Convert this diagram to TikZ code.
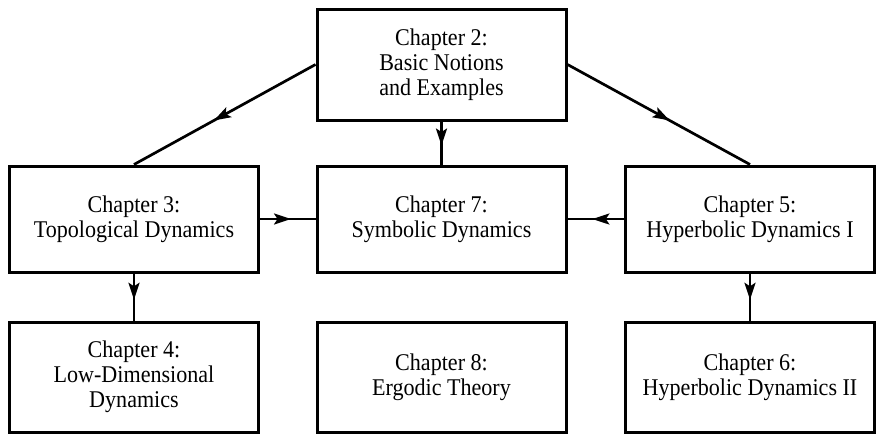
\documentclass[tikz,border=0pt]{standalone}
\usepackage{fontspec}
\setmainfont[FakeStretch=0.92]{Liberation Serif}
\usetikzlibrary{arrows.meta,decorations.markings}
\begin{document}
\begin{tikzpicture}[x=1pt,y=-1pt,
  chapbox/.style={draw,line width=3pt,minimum width=249pt,align=center,
    inner sep=0pt,font=\fontsize{24}{25}\selectfont},
  link/.style={line width=2.7pt,postaction={decorate},
    decoration={markings,mark=at position 0.56 with {\arrow{Stealth[length=17pt,width=11pt,inset=3.5pt]}}}}]
\useasboundingbox (0,0) rectangle (878,437);
\node[chapbox,minimum height=111pt] (c2) at (441.5,64.5) {Chapter 2:\\Basic Notions\\and Examples};
\node[chapbox,minimum height=106pt] (c3) at (134,219) {Chapter 3:\\Topological Dynamics};
\node[chapbox,minimum height=106pt] (c7) at (441.5,219) {Chapter 7:\\Symbolic Dynamics};
\node[chapbox,minimum height=106pt] (c5) at (750,219) {Chapter 5:\\Hyperbolic Dynamics I};
\node[chapbox,minimum height=110pt] (c4) at (134,377) {Chapter 4:\\Low-Dimensional\\Dynamics};
\node[chapbox,minimum height=110pt] (c8) at (441.5,377) {Chapter 8:\\Ergodic Theory};
\node[chapbox,minimum height=110pt] (c6) at (750,377) {Chapter 6:\\Hyperbolic Dynamics II};
\draw[link] (c2.west) -- (c3.north);
\draw[link] (c2.east) -- (c5.north);
\draw[link] (c2.south) -- (c7.north);
\draw[link] (c3.east) -- (c7.west);
\draw[link] (c5.west) -- (c7.east);
\draw[link] (c3.south) -- (c4.north);
\draw[link] (c5.south) -- (c6.north);
\end{tikzpicture}
\end{document}
